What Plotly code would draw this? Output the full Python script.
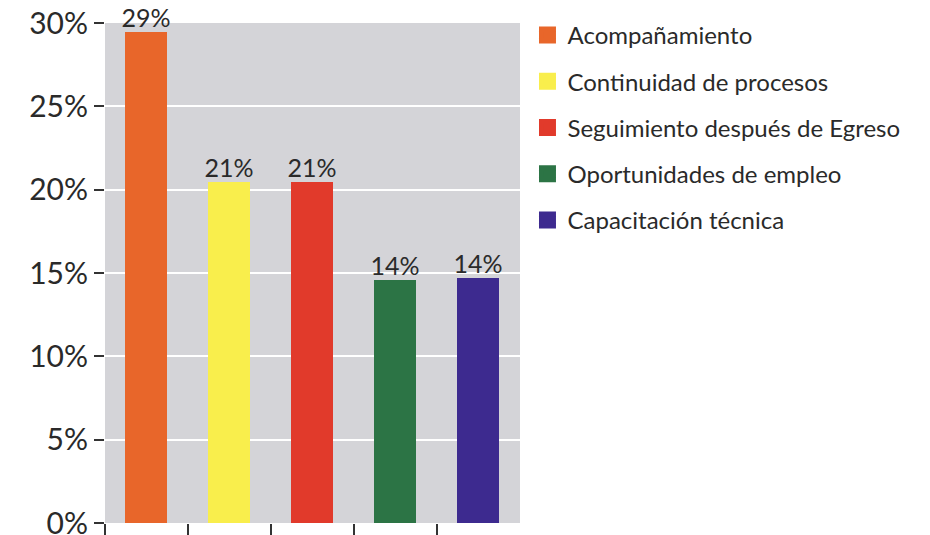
import plotly.graph_objects as go

# data
categories = ["Acompañamiento", "Continuidad de procesos", "Seguimiento después de Egreso",
              "Oportunidades de empleo", "Capacitación técnica"]
values = [29.3, 20.3, 20.3, 14.4, 14.5]
labels = ["29%", "21%", "21%", "14%", "14%"]
colors = ["#e8662a", "#f9ee4c", "#e13a2b", "#2c7445", "#3d2a8f"]

FONT = "Lato"
INK = "#2a2a2a"

fig = go.Figure()
for i, (cat, val, lab, col) in enumerate(zip(categories, values, labels, colors)):
    fig.add_bar(
        x=[i + 0.5], y=[val], width=0.44, name=cat,
        marker=dict(color=col, line=dict(color=col, width=5)),
        text=[lab], textposition="outside", cliponaxis=False, constraintext="none",
        textfont=dict(family=FONT, size=25, color=INK),
        legendgroup=cat, hoverinfo="name+y",
    )

# page body has an 8px margin, so the figure is sized to fill the rest of the window
fig.update_layout(
    width=922, height=527,
    margin=dict(l=97, r=410, t=15, b=12, autoexpand=False),
    paper_bgcolor="white", plot_bgcolor="#d4d4d8",
    font=dict(family=FONT, color=INK),
    showlegend=True,
    legend=dict(
        x=1.018, xanchor="left", y=1.02, yanchor="top",
        font=dict(family=FONT, size=24, color=INK),
        traceorder="grouped", tracegroupgap=12,
        bgcolor="rgba(0,0,0,0)",
    ),
    bargap=0,
)
fig.update_xaxes(
    range=[0, 5], tickvals=[0, 1, 2, 3, 4], showticklabels=False,
    ticks="outside", ticklen=12, tickcolor="#333", tickwidth=1.5,
    showgrid=False, zeroline=False, showline=False, automargin=False,
)
fig.update_yaxes(
    range=[0, 30], dtick=5, ticksuffix="%",
    ticks="outside", ticklen=10, tickcolor="#333", tickwidth=1.5,
    ticklabelstandoff=0, ticklabeloverflow="allow", automargin=False,
    tickfont=dict(family=FONT, size=30, color=INK),
    gridcolor="white", gridwidth=2, zeroline=False, showline=False,
)

fig.write_html("out.html")
